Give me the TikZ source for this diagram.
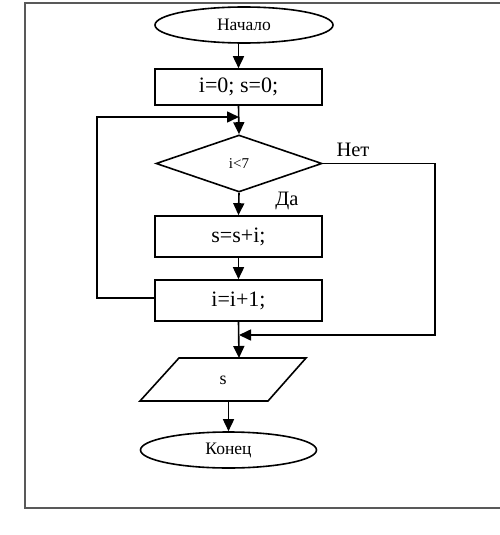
\documentclass[tikz,border=0pt]{standalone}
\usepackage{fontspec}
\setmainfont{Liberation Serif}
\usetikzlibrary{arrows.meta,shapes.geometric}
\begin{document}
\begin{tikzpicture}[x=1pt,y=-1pt,
  line width=1.6pt,
  arr/.style={-{Triangle[length=12pt,width=11pt]}},
  term/.style={draw,ellipse,inner sep=0pt,font=\fontsize{17.5}{17.5}\selectfont},
  proc/.style={draw,rectangle,inner sep=0pt,minimum width=167pt,font=\fontsize{22}{22}\selectfont},
  cond/.style={draw,diamond,inner sep=0pt,aspect=2.9,minimum width=166pt,minimum height=57pt,font=\fontsize{15}{15}\selectfont},
  lbl/.style={font=\fontsize{20.5}{20.5}\selectfont,inner sep=0pt}]
\useasboundingbox (0,0) rectangle (500,535);
\fill[white] (0,0) rectangle (500,535);
\draw[line width=1.3pt,black!65] (520,3) -- (25,3) -- (25,508) -- (520,508);

\node[term,minimum width=178pt,minimum height=36pt] (start) at (244,25) {Начало};
\node[proc,minimum height=36pt] (b1) at (238.5,87) {i=0; s=0;};
\node[cond] (d) at (239,163.5) {i<7};
\node[proc,minimum height=41pt] (b2) at (238.5,236.5) {s=s+i;};
\node[proc,minimum height=41pt] (b3) at (238.5,300.5) {i=i+1;};
\node[inner sep=0pt,font=\fontsize{18}{18}\selectfont] (p) at (223,380) {s};
\draw (140,401) -- (179,358) -- (306,358) -- (268,401) -- cycle;
\coordinate (ptop) at (239,358);
\coordinate (pbot) at (228.5,401);
\node[term,minimum width=176pt,minimum height=36pt] (end) at (228.5,450) {Конец};

\node[lbl] (net) at (353,150) {Нет};
\node[lbl] (da) at (287,201) {Да};

\coordinate (j1) at (239,117);
\coordinate (j2) at (239,335);
\coordinate (l1) at (97,298);
\coordinate (l2) at (97,117);
\coordinate (r1) at (435,163.5);
\coordinate (r2) at (435,335);

\draw[arr] (b1.north |- start.south) -- (b1.north);
\draw[arr] (b1.south) -- (d.north);
\draw[arr] (d.south) -- (b2.north);
\draw[arr] (b2.south) -- (b3.north);
\draw[arr] (b3.west |- l1) -- (l1) -- (l2) -- (j1);
\draw[arr] (d.east) -- (r1) -- (r2) -- (j2);
\draw[arr] (b3.south) -- (ptop);
\draw[arr] (pbot) -- (end.north);
\end{tikzpicture}
\end{document}
